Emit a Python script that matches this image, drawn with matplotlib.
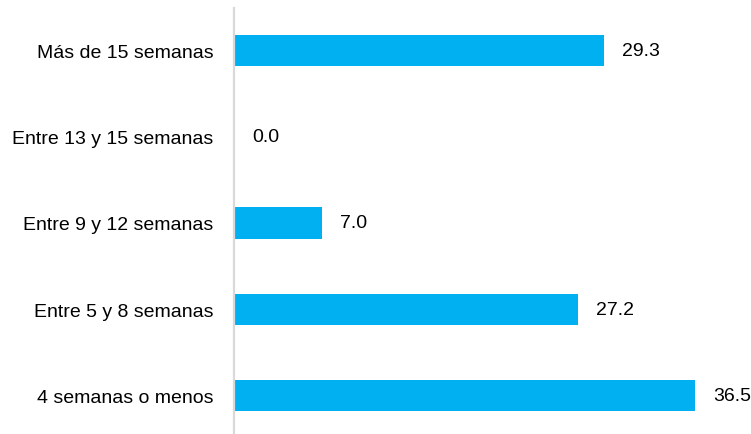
import matplotlib
matplotlib.use("Agg")
import matplotlib.pyplot as plt
from matplotlib.transforms import ScaledTranslation

categories = ["4 semanas o menos", "Entre 5 y 8 semanas", "Entre 9 y 12 semanas",
              "Entre 13 y 15 semanas", "Más de 15 semanas"]
values = [36.5, 27.2, 7.0, 0.0, 29.3]

plt.rcParams['font.family'] = ['Liberation Sans', 'DejaVu Sans']

W, H = 751, 435
fig = plt.figure(figsize=(W / 100, H / 100), dpi=100)
ax = fig.add_axes([234 / W, 0, 1 - 234 / W, 1 - 9 / H])

pos = list(range(len(categories)))
ax.barh(pos, values, height=0.36, color="#00B0F0")
ax.set_xlim(0, (W - 234) / 12.63)
ax.set_ylim(-38.5 / 86.25, 4 + 42.5 / 86.25)

ax.set_yticks(pos)
ax.set_yticklabels(categories, fontsize=14, color="#000000")
ax.tick_params(axis="y", length=0, pad=15)
ax.set_xticks([])
for s in ["top", "right", "bottom"]:
    ax.spines[s].set_visible(False)
ax.spines["left"].set_color("#d9d9d9")
ax.spines["left"].set_linewidth(1.6)

off = ScaledTranslation(18 / 100, 0, fig.dpi_scale_trans)
for p, v in zip(pos, values):
    ax.text(v, p, f"{v:.1f}", va="center", ha="left", fontsize=14,
            color="#000000", transform=ax.transData + off)

fig.savefig("out.png", dpi=100)
